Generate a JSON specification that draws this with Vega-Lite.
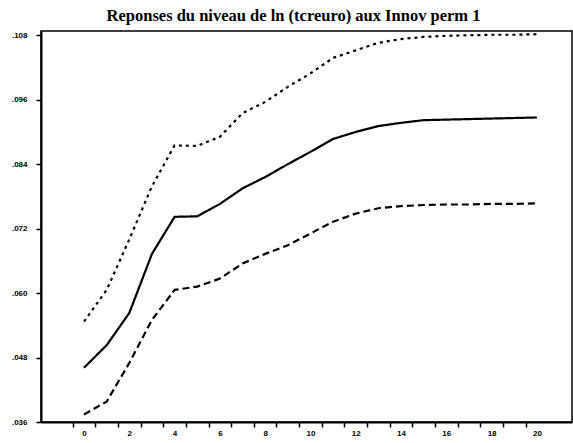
{
  "$schema": "https://vega.github.io/schema/vega-lite/v6.json",
  "width": 531,
  "height": 391,
  "autosize": "none",
  "padding": {"left": 41, "top": 31, "right": 1, "bottom": 21},
  "background": "white",
  "title": {"text": "Reponses du niveau de ln (tcreuro) aux Innov perm 1", "font": "Liberation Serif", "fontSize": 16.5, "fontWeight": "bold", "color": "black", "anchor": "middle", "dx": -13, "offset": 5},
  "config": {"view": {"stroke": "black", "strokeWidth": 1.5}},
  "data": {"values": [
    {"h":0,"s":"upper","v":0.0547},{"h":1,"s":"upper","v":0.0606},{"h":2,"s":"upper","v":0.0700},{"h":3,"s":"upper","v":0.0799},{"h":4,"s":"upper","v":0.0875},{"h":5,"s":"upper","v":0.0874},{"h":6,"s":"upper","v":0.0891},{"h":7,"s":"upper","v":0.0935},{"h":8,"s":"upper","v":0.0956},{"h":9,"s":"upper","v":0.0984},{"h":10,"s":"upper","v":0.1009},{"h":11,"s":"upper","v":0.1038},{"h":12,"s":"upper","v":0.1052},{"h":13,"s":"upper","v":0.1066},{"h":14,"s":"upper","v":0.1073},{"h":15,"s":"upper","v":0.1077},{"h":16,"s":"upper","v":0.1079},{"h":17,"s":"upper","v":0.1080},{"h":18,"s":"upper","v":0.1081},{"h":19,"s":"upper","v":0.1081},{"h":20,"s":"upper","v":0.1082},
    {"h":0,"s":"irf","v":0.0461},{"h":1,"s":"irf","v":0.0503},{"h":2,"s":"irf","v":0.0563},{"h":3,"s":"irf","v":0.0673},{"h":4,"s":"irf","v":0.0742},{"h":5,"s":"irf","v":0.0743},{"h":6,"s":"irf","v":0.0766},{"h":7,"s":"irf","v":0.0795},{"h":8,"s":"irf","v":0.0816},{"h":9,"s":"irf","v":0.0840},{"h":10,"s":"irf","v":0.0863},{"h":11,"s":"irf","v":0.0887},{"h":12,"s":"irf","v":0.0900},{"h":13,"s":"irf","v":0.0911},{"h":14,"s":"irf","v":0.0917},{"h":15,"s":"irf","v":0.0922},{"h":16,"s":"irf","v":0.0923},{"h":17,"s":"irf","v":0.0924},{"h":18,"s":"irf","v":0.0925},{"h":19,"s":"irf","v":0.0926},{"h":20,"s":"irf","v":0.0927},
    {"h":0,"s":"lower","v":0.0374},{"h":1,"s":"lower","v":0.0398},{"h":2,"s":"lower","v":0.0470},{"h":3,"s":"lower","v":0.0550},{"h":4,"s":"lower","v":0.0606},{"h":5,"s":"lower","v":0.0612},{"h":6,"s":"lower","v":0.0627},{"h":7,"s":"lower","v":0.0655},{"h":8,"s":"lower","v":0.0673},{"h":9,"s":"lower","v":0.0689},{"h":10,"s":"lower","v":0.0711},{"h":11,"s":"lower","v":0.0733},{"h":12,"s":"lower","v":0.0748},{"h":13,"s":"lower","v":0.0758},{"h":14,"s":"lower","v":0.0762},{"h":15,"s":"lower","v":0.0764},{"h":16,"s":"lower","v":0.0765},{"h":17,"s":"lower","v":0.0765},{"h":18,"s":"lower","v":0.0766},{"h":19,"s":"lower","v":0.0766},{"h":20,"s":"lower","v":0.0767}
  ]},
  "mark": {"type": "line", "color": "black", "strokeWidth": 2.2},
  "encoding": {
    "x": {"field": "h", "type": "quantitative",
      "scale": {"domain": [-1.9, 21.55], "nice": false, "zero": false},
      "axis": {"title": null, "grid": false,
        "values": [-0.5,0.5,1.5,2.5,3.5,4.5,5.5,6.5,7.5,8.5,9.5,10.5,11.5,12.5,13.5,14.5,15.5,16.5,17.5,18.5,19.5],
        "labelExpr": "(datum.value + 0.5) % 2 == 0 ? format(datum.value + 0.5, 'd') : ''",
        "labelOffset": 11.3, "labelOverlap": false, "labelFlush": false,
        "labelFont": "Liberation Sans", "labelFontSize": 8, "labelFontWeight": "bold", "labelColor": "black", "labelPadding": 2,
        "domainColor": "black", "domainWidth": 2, "tickColor": "black", "tickWidth": 1.5, "tickSize": 5}},
    "y": {"field": "v", "type": "quantitative",
      "scale": {"domain": [0.036, 0.1088], "nice": false, "zero": false},
      "axis": {"title": null, "grid": false,
        "values": [0.036,0.048,0.060,0.072,0.084,0.096,0.108],
        "labelExpr": "replace(format(datum.value, '.3f'), '0.', '.')",
        "labelOverlap": false, "labelFlush": false,
        "labelFont": "Liberation Sans", "labelFontSize": 8, "labelFontWeight": "bold", "labelColor": "black", "labelPadding": 9,
        "domainColor": "black", "domainWidth": 2, "tickColor": "black", "tickWidth": 1.5, "tickSize": 5}},
    "detail": {"field": "s"},
    "strokeDash": {"field": "s", "type": "nominal",
      "scale": {"domain": ["upper","irf","lower"], "range": [[3,4],[1,0],[7,4]]},
      "legend": null}
  }
}
